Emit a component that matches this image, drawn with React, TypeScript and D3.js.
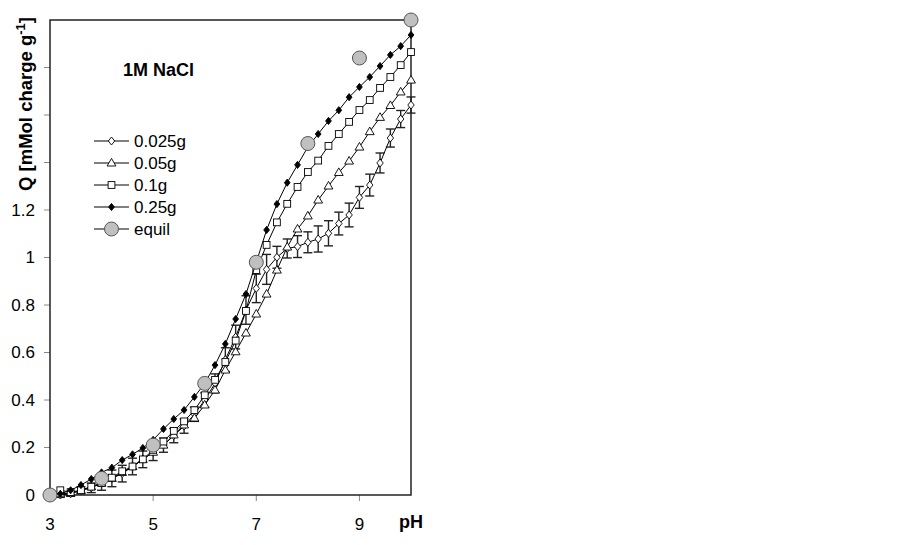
import React from 'react';
import * as d3 from 'd3';

// titration data
const phSteps = [3.2, 3.4, 3.6, 3.8, 4.0, 4.2, 4.4, 4.6, 4.8, 5.0, 5.2, 5.4, 5.6, 5.8, 6.0, 6.2, 6.4, 6.6, 6.8, 7.0,
  7.2, 7.4, 7.6, 7.8, 8.0, 8.2, 8.4, 8.6, 8.8, 9.0, 9.2, 9.4, 9.6, 9.8, 10.0];

const q025 = [0.0, 0.005, 0.02, 0.03, 0.05, 0.07, 0.09, 0.12, 0.15, 0.18, 0.21, 0.25, 0.29, 0.34, 0.4, 0.47, 0.57, 0.665, 0.779, 0.87,
  0.95, 1.001, 1.038, 1.046, 1.064, 1.078, 1.102, 1.143, 1.179, 1.253, 1.305, 1.398, 1.503, 1.583, 1.642];
const err025 = [0.01, 0.01, 0.015, 0.02, 0.03, 0.035, 0.035, 0.035, 0.035, 0.035, 0.03, 0.03, 0.03, 0.03, 0.03, 0.04, 0.05, 0.05, 0.06, 0.06,
  0.063, 0.046, 0.04, 0.046, 0.044, 0.055, 0.053, 0.048, 0.05, 0.046, 0.046, 0.042, 0.038, 0.036, 0.034];
const q05 = [0.005, 0.008, 0.02, 0.035, 0.05, 0.07, 0.095, 0.12, 0.15, 0.18, 0.21, 0.253, 0.295, 0.324, 0.379, 0.442, 0.526, 0.603, 0.682, 0.762,
  0.846, 0.947, 1.044, 1.12, 1.175, 1.242, 1.301, 1.358, 1.406, 1.465, 1.53, 1.59, 1.64, 1.697, 1.747];
const q1 = [0.02, 0.012, 0.02, 0.035, 0.05, 0.073, 0.1, 0.12, 0.15, 0.19, 0.225, 0.27, 0.31, 0.357, 0.42, 0.485, 0.56, 0.65, 0.775, 0.947,
  1.053, 1.148, 1.226, 1.297, 1.36, 1.408, 1.47, 1.52, 1.571, 1.621, 1.663, 1.714, 1.76, 1.81, 1.865];
const q25 = [0.005, 0.02, 0.042, 0.067, 0.095, 0.115, 0.147, 0.171, 0.198, 0.232, 0.278, 0.32, 0.358, 0.413, 0.47, 0.547, 0.636, 0.741, 0.846, 0.98,
  1.116, 1.225, 1.315, 1.39, 1.465, 1.52, 1.575, 1.62, 1.675, 1.718, 1.76, 1.806, 1.853, 1.89, 1.937];

const equilPh = [3, 4, 5, 6, 7, 8, 9, 10];
const equilQ = [0, 0.07, 0.21, 0.47, 0.98, 1.48, 1.84, 2.0];

const xTicks = [3, 5, 7, 9];
const yTicks = [0, 0.2, 0.4, 0.6, 0.8, 1, 1.2, 1.4, 1.6, 1.8];
const yLabelled = ['0', '0.2', '0.4', '0.6', '0.8', '1', '1.2'];

const legendNames = ['0.025g', '0.05g', '0.1g', '0.25g', 'equil'];

const width = 900;
const height = 545;
const margin = { top: 20, right: 489, bottom: 50, left: 50 };
const font = 'Liberation Sans, Arial, sans-serif';

const x = d3.scaleLinear().domain([3, 10]).range([margin.left, width - margin.right]);
const y = d3.scaleLinear().domain([0, 2]).range([height - margin.bottom, margin.top]);

const Marker = ({ kind, cx, cy }: { kind: string; cx: number; cy: number }) => {
  if (kind === 'diamond' || kind === 'fdiamond') {
    const s = kind === 'diamond' ? 4 : 3.6;
    return (
      <path d={`M${cx},${cy - s}L${cx + s * 0.8},${cy}L${cx},${cy + s}L${cx - s * 0.8},${cy}Z`}
        fill={kind === 'diamond' ? '#fff' : '#000'} stroke="#000" strokeWidth={0.9} />
    );
  }
  if (kind === 'triangle') {
    return <path d={`M${cx},${cy - 4.6}L${cx + 4.4},${cy + 3}L${cx - 4.4},${cy + 3}Z`} fill="#fff" stroke="#000" strokeWidth={0.9} />;
  }
  if (kind === 'square') {
    return <rect x={cx - 3.4} y={cy - 3.4} width={6.8} height={6.8} fill="#fff" stroke="#000" strokeWidth={0.9} />;
  }
  return <circle cx={cx} cy={cy} r={7} fill="#c0c0c0" stroke="#555" strokeWidth={1} />;
};

const series = [
  { name: '0.025g', values: q025, kind: 'diamond' },
  { name: '0.05g', values: q05, kind: 'triangle' },
  { name: '0.1g', values: q1, kind: 'square' },
  { name: '0.25g', values: q25, kind: 'fdiamond' },
];
const legendKinds = ['diamond', 'triangle', 'square', 'fdiamond', 'circle'];

const App = () => {
  const line = d3.line<number>()
    .x((_, i) => x(phSteps[i]))
    .y(d => y(d));

  const x0 = x(3), x1 = x(10), y0 = y(0), y1 = y(2);

  return (
    <svg width={width} height={height} style={{ position: 'absolute', left: 0, top: 0 }}>
      <rect width={width} height={height} fill="#fff" />

      {/* ticks */}
      {yTicks.map(t => (
        <line key={'yt' + t} x1={x0 - 6} x2={x0} y1={y(t)} y2={y(t)} stroke="#888" strokeWidth={1} />
      ))}
      {xTicks.map(t => (
        <line key={'xt' + t} x1={x(t)} x2={x(t)} y1={y0} y2={y0 + 6} stroke="#888" strokeWidth={1} />
      ))}

      {/* frame */}
      <rect x={x0} y={y1} width={x1 - x0} height={y0 - y1} fill="none" stroke="#222" strokeWidth={1.5} />

      {/* tick labels */}
      {yLabelled.map((l, i) => (
        <text key={'yl' + l} x={x0 - 15} y={y(yTicks[i])} dy="0.35em" textAnchor="end"
          fontFamily={font} fontSize={17}>{l}</text>
      ))}
      {xTicks.map(t => (
        <text key={'xl' + t} x={x(t)} y={y0 + 35} textAnchor="middle" fontFamily={font} fontSize={17}>{t}</text>
      ))}
      <text x={399} y={528} fontFamily={font} fontSize={18} fontWeight="bold">pH</text>

      <text transform="translate(32,104) rotate(-90)" textAnchor="middle" fontFamily={font} fontSize={18.5} fontWeight="bold">
        Q [mMol charge g<tspan dy={-7} fontSize={13}>-1</tspan><tspan dy={7}>]</tspan>
      </text>

      <text x={123} y={76} fontFamily={font} fontSize={18} fontWeight="bold">1M NaCl</text>

      {/* error bars of the 0.025g run */}
      {q025.map((v, i) => {
        const cx = x(phSteps[i]);
        const lo = y(v - err025[i]), hi = y(v + err025[i]);
        return (
          <g key={'eb' + i} stroke="#222" strokeWidth={1.4}>
            <line x1={cx} x2={cx} y1={lo} y2={hi} />
            <line x1={cx - 4.5} x2={cx + 4.5} y1={lo} y2={lo} />
            <line x1={cx - 4.5} x2={cx + 4.5} y1={hi} y2={hi} />
          </g>
        );
      })}

      {series.map(s => (
        <g key={s.name}>
          <path d={line(s.values) || ''} fill="none" stroke="#000" strokeWidth={1} />
          {s.values.map((v, i) => (
            <Marker key={i} kind={s.kind} cx={x(phSteps[i])} cy={y(v)} />
          ))}
        </g>
      ))}

      {equilQ.map((v, i) => (
        <Marker key={'eq' + i} kind="circle" cx={x(equilPh[i])} cy={y(v)} />
      ))}

      {/* legend */}
      {legendNames.map((n, i) => {
        const ly = 141 + i * 22;
        return (
          <g key={'lg' + n}>
            <line x1={94} x2={129} y1={ly} y2={ly} stroke="#000" strokeWidth={1} />
            <Marker kind={legendKinds[i]} cx={111.5} cy={ly} />
            <text x={134} y={ly} dy="0.35em" fontFamily={font} fontSize={17}>{n}</text>
          </g>
        );
      })}
    </svg>
  );
};

export default App;
